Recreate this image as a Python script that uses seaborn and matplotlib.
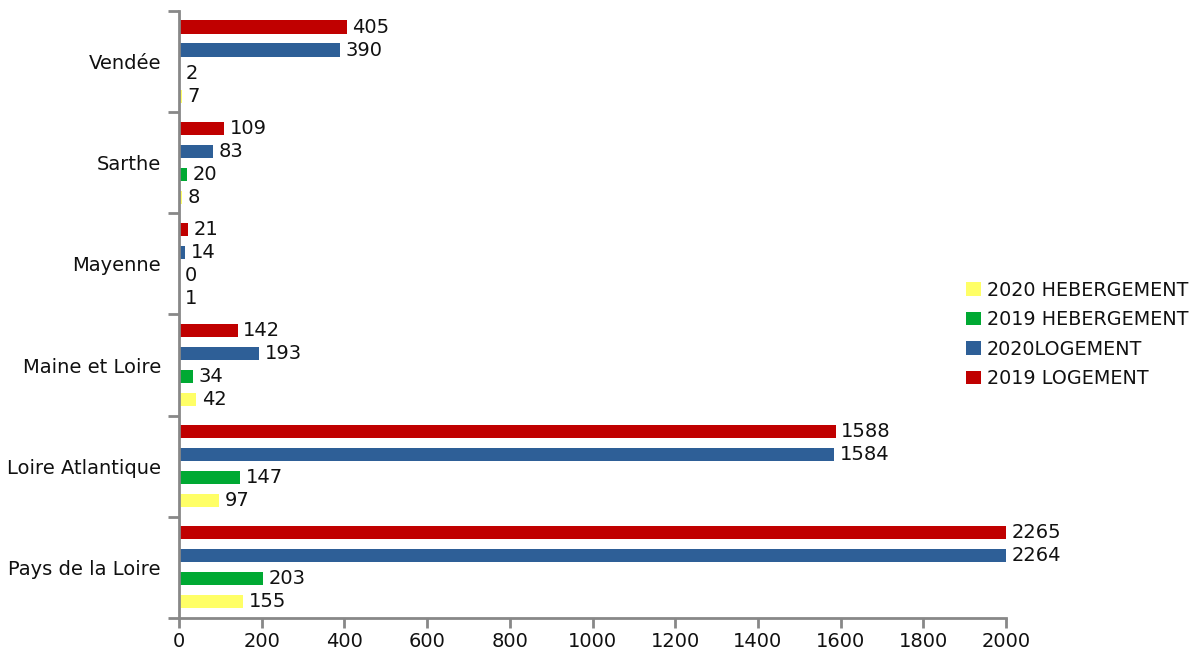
import matplotlib
matplotlib.use("Agg")
import matplotlib.pyplot as plt
import seaborn as sns
import pandas as pd
from matplotlib.patches import Patch

# ---- data ----
regions = ["Vendée", "Sarthe", "Mayenne", "Maine et Loire", "Loire Atlantique", "Pays de la Loire"]
log_2019 = [405, 109, 21, 142, 1588, 2265]
log_2020 = [390, 83, 14, 193, 1584, 2264]
heb_2019 = [2, 20, 0, 34, 147, 203]
heb_2020 = [7, 8, 1, 42, 97, 155]
series_names = ["2019 LOGEMENT", "2020LOGEMENT", "2019 HEBERGEMENT", "2020 HEBERGEMENT"]
series_colors = ["#C00000", "#2E5F97", "#00A933", "#FFFF66"]
x_ticks = [0, 200, 400, 600, 800, 1000, 1200, 1400, 1600, 1800, 2000]

rows = []
for name, vals in zip(series_names, [log_2019, log_2020, heb_2019, heb_2020]):
    for r, v in zip(regions, vals):
        rows.append({"region": r, "serie": name, "value": v})
df = pd.DataFrame(rows)

sns.set_style("white")
plt.rcParams["font.family"] = ["DejaVu Sans"]

fig = plt.figure(figsize=(11.96, 6.57), dpi=100)
ax = fig.add_axes([0.1497, 0.0594, 0.6915, 0.9239])

sns.barplot(data=df, y="region", x="value", hue="serie", order=regions,
            hue_order=series_names, palette=series_colors, orient="h",
            width=0.91, gap=0.43, ax=ax, legend=False, saturation=1,
            linewidth=0)

ax.set_xlim(0, 2000)
ax.set_ylim(len(regions) - 0.5, -0.5)
ax.set_xlabel("")
ax.set_ylabel("")

FS = 14
TXT = "#111111"

# value labels
for container, vals in zip(ax.containers, [log_2019, log_2020, heb_2019, heb_2020]):
    for patch, v in zip(container.patches, vals):
        xend = min(patch.get_width(), 2000)
        yc = patch.get_y() + patch.get_height() / 2
        ax.annotate(f"{v}", xy=(xend, yc), xytext=(4, 0), textcoords="offset points",
                    va="center", ha="left", fontsize=FS, color=TXT,
                    annotation_clip=False)

# ticks
ax.set_xticks(x_ticks)
ax.set_xticklabels([str(t) for t in x_ticks], fontsize=FS, color=TXT)
ax.set_yticks([i - 0.5 for i in range(len(regions) + 1)])
ax.set_yticklabels([])
ax.set_yticks(list(range(len(regions))), minor=True)
ax.set_yticklabels(regions, minor=True, fontsize=FS, color=TXT)
ax.tick_params(axis="y", which="major", length=8, width=2, color="#888888", direction="out", left=True)
ax.tick_params(axis="y", which="minor", length=0, pad=13)
ax.tick_params(axis="x", which="major", length=7, width=2, color="#888888", direction="out", bottom=True, pad=3)

for s in ["top", "right"]:
    ax.spines[s].set_visible(False)
for s in ["left", "bottom"]:
    ax.spines[s].set_color("#888888")
    ax.spines[s].set_linewidth(2)

# legend
handles = [Patch(facecolor=c, edgecolor="none", label=n)
           for n, c in zip(series_names[::-1], series_colors[::-1])]
fig.legend(handles=handles, loc="upper left", bbox_to_anchor=(0.793, 0.599),
           frameon=False, fontsize=13.8, handlelength=0.8, handleheight=0.7,
           handletextpad=0.3, labelspacing=0.55, labelcolor=TXT)

fig.savefig("out.png", dpi=100)
